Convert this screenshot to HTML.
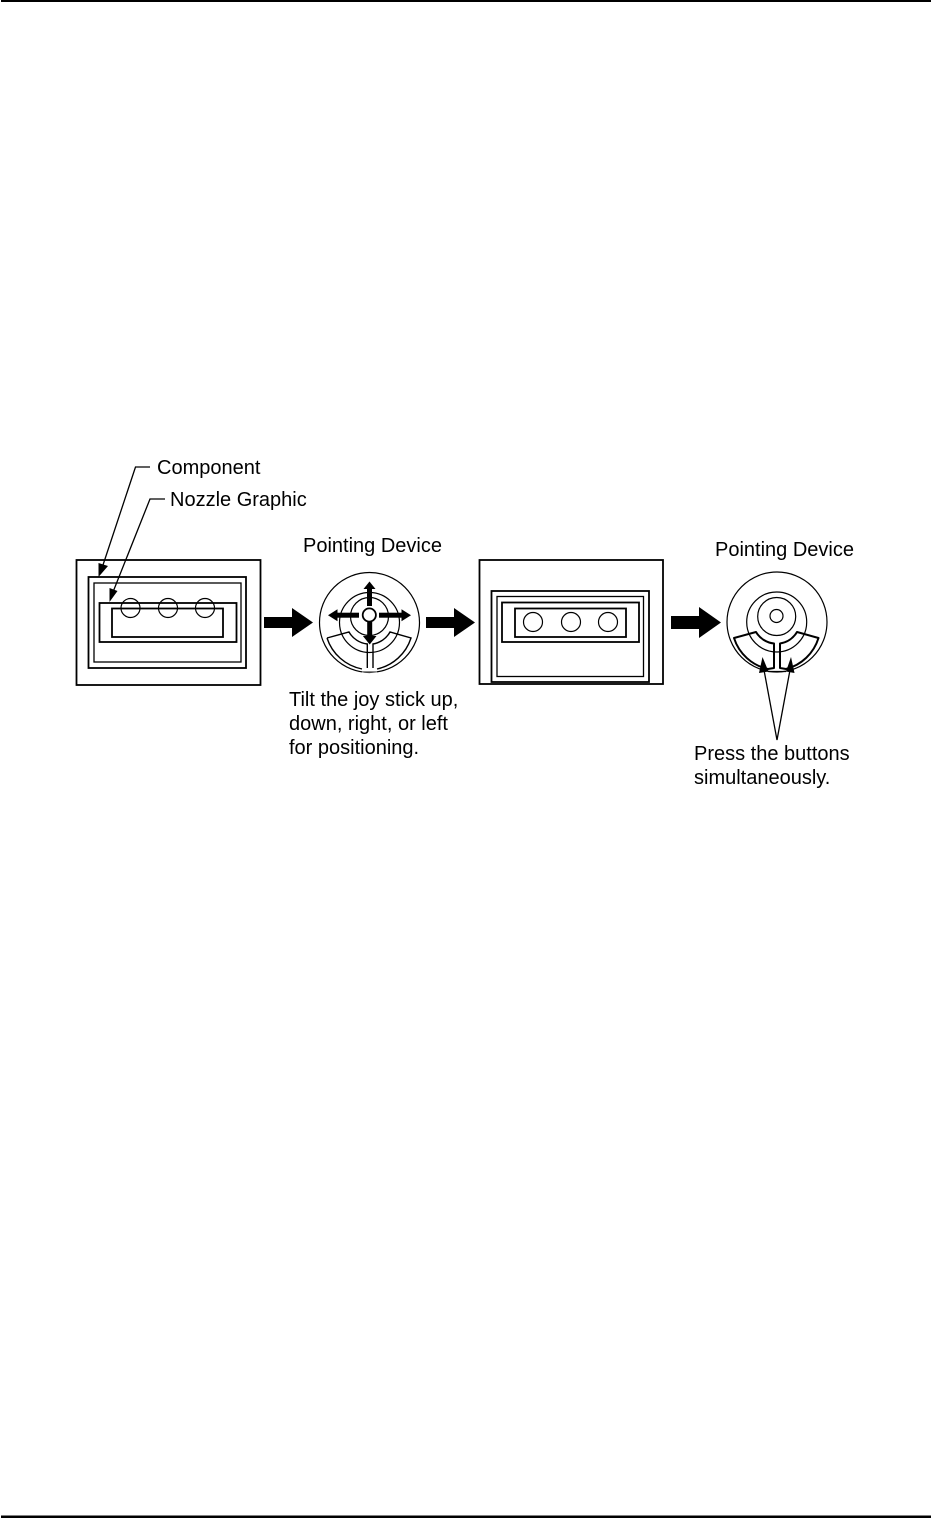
<!DOCTYPE html>
<html>
<head>
<meta charset="utf-8">
<style>
html,body{margin:0;padding:0;background:#fff;width:931px;height:1518px;overflow:hidden}
svg{display:block}
text{font-family:"Liberation Sans",Arial,sans-serif;font-size:20px;fill:#000}
</style>
</head>
<body>
<svg width="931" height="1518" viewBox="0 0 931 1518" xmlns="http://www.w3.org/2000/svg">
<rect x="1" y="0" width="930" height="2" fill="#000"/>
<rect x="1" y="1515.5" width="930" height="2.5" fill="#000"/>

<g fill="none" stroke="#000">
<rect x="76.5" y="560" width="184" height="125" stroke-width="1.8"/>
<rect x="88.5" y="577" width="157.5" height="91" stroke-width="1.8"/>
<rect x="94" y="583" width="147" height="79" stroke-width="1.3"/>
<rect x="99.5" y="603" width="137" height="39" stroke-width="1.8"/>
<rect x="112" y="608.5" width="111" height="28.5" stroke-width="1.8"/>
<circle cx="130.5" cy="608" r="9.5" stroke-width="1.2"/>
<circle cx="168" cy="608" r="9.5" stroke-width="1.2"/>
<circle cx="205" cy="608" r="9.5" stroke-width="1.2"/>
<polyline points="150,467 135.5,467 102,568" stroke-width="1.3"/>
<polyline points="165,499 150,499 113,592" stroke-width="1.3"/>
</g>
<polygon points="98.5,577 98.5,563 108,566" fill="#000"/>
<polygon points="109.5,602 109.5,588 117.5,591" fill="#000"/>

<g fill="none" stroke="#000">
<rect x="479.5" y="560" width="183.5" height="124" stroke-width="1.8"/>
<rect x="491.5" y="591" width="157.5" height="91" stroke-width="1.8"/>
<rect x="497" y="596.5" width="146.5" height="80" stroke-width="1.3"/>
<rect x="502" y="602.5" width="137" height="39.5" stroke-width="1.8"/>
<rect x="515" y="608.5" width="111" height="28.5" stroke-width="1.8"/>
<circle cx="533" cy="622" r="9.5" stroke-width="1.2"/>
<circle cx="571" cy="622" r="9.5" stroke-width="1.2"/>
<circle cx="608" cy="622" r="9.5" stroke-width="1.2"/>
</g>

<polygon points="264,617 292,617 292,608 313,622.5 292,637 292,628 264,628" fill="#000"/>
<polygon points="426,617 454,617 454,608 475,622.5 454,637 454,628 426,628" fill="#000"/>
<polygon points="671,616 699,616 699,607 721,622.5 699,638 699,629 671,629" fill="#000"/>

<!-- Device 1 -->
<g fill="none" stroke="#000" stroke-width="1.2">
<circle cx="369.5" cy="622.5" r="50"/>
<circle cx="369.5" cy="616.5" r="19"/>
<circle cx="369.5" cy="622.5" r="30"/>
<path d="M327 638 L349 632 A24 24 0 0 0 367.3 644 L367.3 668 M327 638 A46 46 0 0 0 362 669 M373 668 L373 644 A24 24 0 0 0 390 632 L411 638 A46 46 0 0 1 377 669" stroke-width="1.4"/>
</g>
<rect x="362" y="671" width="15" height="1.5" fill="#888"/>
<g fill="#000">
<rect x="367" y="586" width="5" height="20"/>
<polygon points="369.5,581.5 375.5,589 363.5,589"/>
<rect x="367.2" y="622" width="5" height="16"/>
<polygon points="369.7,644.5 376.5,636 362.9,636"/>
<rect x="335" y="612.7" width="24" height="5"/>
<polygon points="328,615.2 337.5,609.2 337.5,621.2"/>
<rect x="379" y="612.7" width="25" height="5"/>
<polygon points="411,615.2 401.5,609.2 401.5,621.2"/>
</g>
<circle cx="369.3" cy="615" r="6.6" fill="#fff" stroke="#000" stroke-width="1.8"/>

<!-- Device 2 -->
<g fill="none" stroke="#000">
<circle cx="777" cy="622" r="50" stroke-width="1.2"/>
<circle cx="776.7" cy="616.5" r="19" stroke-width="1.2"/>
<circle cx="776.5" cy="616" r="6.5" stroke-width="1.2"/>
<circle cx="776.7" cy="622" r="30" stroke-width="1.2"/>
<path d="M734 638 L756 632 A24 24 0 0 0 774 643.5 L774 668 L768 669 A46 46 0 0 1 734 638 Z" stroke-width="2" stroke-linejoin="round"/>
<path d="M818.5 638 L797 632 A24 24 0 0 1 780 643.5 L780 668 L786 669 A46 46 0 0 0 818.5 638 Z" stroke-width="2" stroke-linejoin="round"/>
<path d="M768 671.5 L786 671.5" stroke-width="1.2"/>
<path d="M777 740 L764 670 M777 740 L790 670" stroke-width="1.3"/>
</g>
<polygon points="762.5,657 759,673 768.5,671.5" fill="#000"/>
<polygon points="791,657 786,671.5 794.5,673" fill="#000"/>

<text x="157" y="474">Component</text>
<text x="170" y="506">Nozzle Graphic</text>
<text x="303" y="552">Pointing Device</text>
<text x="715" y="556">Pointing Device</text>
<text x="289" y="706">Tilt the joy stick up,</text>
<text x="289" y="730">down, right, or left</text>
<text x="289" y="754">for positioning.</text>
<text x="694" y="760">Press the buttons</text>
<text x="694" y="784">simultaneously.</text>
</svg>
</body>
</html>
